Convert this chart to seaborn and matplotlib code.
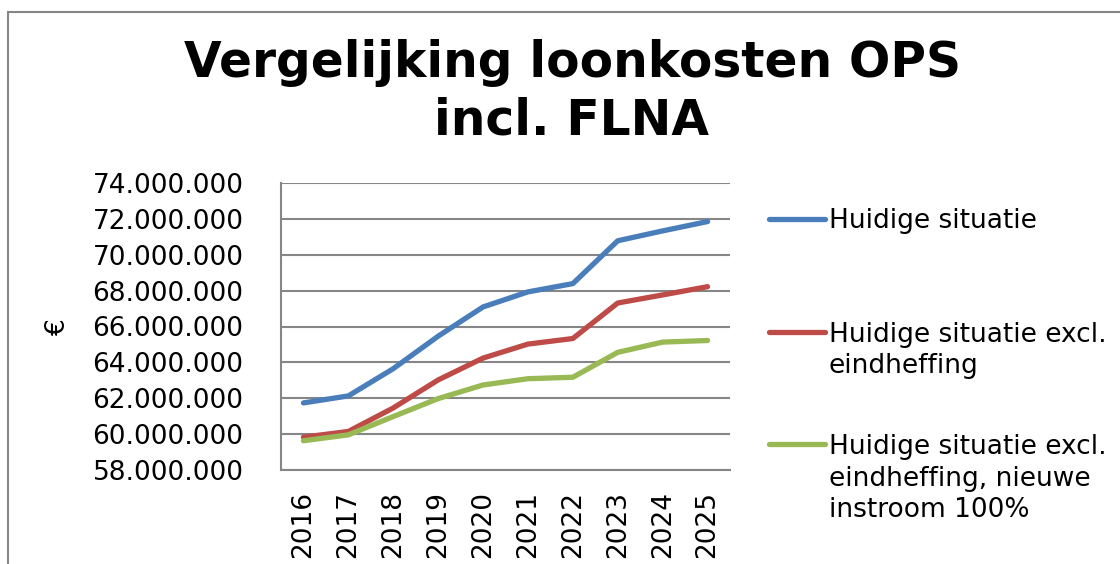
import matplotlib
matplotlib.use("Agg")
import matplotlib.pyplot as plt
import seaborn as sns
import pandas as pd
from matplotlib.lines import Line2D
from matplotlib.patches import Rectangle
from matplotlib.ticker import FuncFormatter, MultipleLocator

years = ["2016", "2017", "2018", "2019", "2020", "2021", "2022", "2023", "2024", "2025"]
huidige = [61.74, 62.13, 63.65, 65.46, 67.09, 67.93, 68.39, 70.78, 71.33, 71.85]
excl_eind = [59.83, 60.15, 61.46, 63.02, 64.24, 65.02, 65.33, 67.31, 67.76, 68.22]
excl_nieuw = [59.63, 59.96, 60.98, 61.98, 62.74, 63.09, 63.17, 64.56, 65.13, 65.22]
series_names = ["Huidige situatie",
                "Huidige situatie excl.\neindheffing",
                "Huidige situatie excl.\neindheffing, nieuwe\ninstroom 100%"]
colors = ["#4A7EBB", "#BE4B48", "#98B954"]

sns.set_style("white")
plt.rcParams["font.family"] = ["DejaVu Sans"]
plt.rcParams["text.color"] = "black"

rows = []
for name, vals in zip(series_names, [huidige, excl_eind, excl_nieuw]):
    for i, (y, v) in enumerate(zip(years, vals)):
        rows.append({"idx": i, "year": y, "value": v * 1e6, "series": name})
df = pd.DataFrame(rows)

W, H = 1120, 564
fig = plt.figure(figsize=(W / 100, H / 100), dpi=100)
ax = fig.add_axes([281 / W, 1 - 470 / H, 449 / W, 287 / H])

sns.lineplot(data=df, x="idx", y="value", hue="series", palette=colors,
             linewidth=3.8, ax=ax, legend=False, solid_capstyle="round")

ax.set_xlim(-0.5, 9.5)
ax.set_ylim(58e6, 74e6)
ax.yaxis.set_major_locator(MultipleLocator(2e6))
ax.yaxis.set_major_formatter(FuncFormatter(lambda v, p: f"{int(round(v)):,}".replace(",", ".")))
ax.set_xticks(range(len(years)))
ax.set_xticklabels(years, rotation=90)
ax.tick_params(axis="y", length=0, pad=27, labelsize=19, labelcolor="black")
ax.tick_params(axis="x", length=0, pad=15, labelsize=19, labelcolor="black")
ax.grid(axis="y", color="#868686", linewidth=1.5)
ax.set_axisbelow(True)
for s in ["top", "right"]:
    ax.spines[s].set_visible(False)
for s in ["left", "bottom"]:
    ax.spines[s].set_color("#868686")
    ax.spines[s].set_linewidth(1.5)
ax.set_xlabel("")
ax.set_ylabel("")

fig.text(58 / W, 1 - 327 / H, "€", rotation=90, fontsize=19, ha="center", va="center")

fig.text(572 / W, 1 - 39 / H, "Vergelijking loonkosten OPS\nincl. FLNA", fontsize=35,
         fontweight="bold", ha="center", va="top", linespacing=1.25)

# legend
baselines = [228, 341, 453]
line_step = 32
for name, col, b in zip(series_names, colors, baselines):
    nlines = name.count("\n")
    yl = 1 - (b - 9) / H
    fig.add_artist(Line2D([769 / W, 825 / W], [yl, yl], color=col, linewidth=3.8,
                          solid_capstyle="round", transform=fig.transFigure))
    fig.text(829 / W, 1 - (b + nlines * line_step) / H, name, fontsize=19, ha="left",
             va="baseline", linespacing=1.27)

fig.add_artist(Rectangle((8 / W, -0.1), 1.2, 1.1 - 12.5 / H, fill=False,
                         edgecolor="#868686", linewidth=1.5, transform=fig.transFigure))

fig.savefig("out.png", dpi=100)
